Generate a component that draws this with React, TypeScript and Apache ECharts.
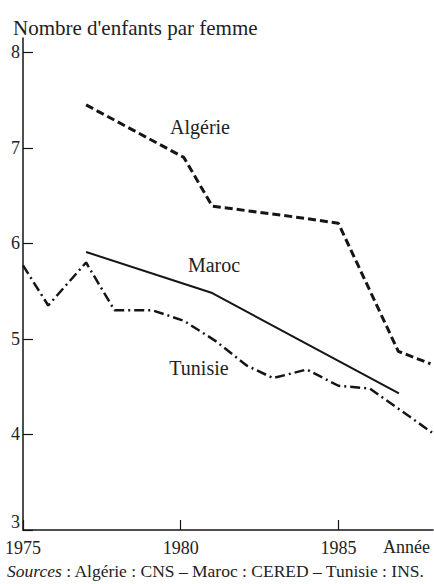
import React, { useEffect, useRef } from "react";
import * as echarts from "echarts";

const algerieYears = [1977, 1980.1, 1981, 1984, 1985, 1986.9, 1987.92];
const algerieValues = [7.45, 6.9, 6.39, 6.26, 6.21, 4.87, 4.74];

const marocYears = [1977, 1981, 1986.92];
const marocValues = [5.91, 5.48, 4.43];

const tunisieYears = [1975, 1975.8, 1977, 1977.9, 1979.1, 1980.1, 1981.1, 1982.1, 1982.93, 1984, 1985, 1986, 1987.97];
const tunisieValues = [5.77, 5.35, 5.8, 5.3, 5.3, 5.19, 4.98, 4.72, 4.59, 4.68, 4.51, 4.48, 4.02];

const xTicks = [1975, 1980, 1985];
const yTicks = [3, 4, 5, 6, 7, 8];

const titleText = "Nombre d'enfants par femme";
const xName = "Année";
const sourceLabel = "Sources";
const sourceText = " : Algérie : CNS – Maroc : CERED – Tunisie : INS.";
const seriesNames = ["Algérie", "Maroc", "Tunisie"];

const FONT = "'Liberation Serif', 'Times New Roman', Times, serif";
const INK = "#151515";
const TXT = "#222";

function pairs(xs: number[], ys: number[]) {
  return xs.map((x, i) => [x, ys[i]]);
}

export default function App() {
  const ref = useRef<HTMLDivElement>(null);
  useEffect(() => {
    if (!ref.current) return;
    const chart = echarts.init(ref.current, undefined, { renderer: "svg" });
    const label = (size: number) => ({ fontFamily: FONT, fontSize: size, fill: TXT });
    chart.setOption({
      animation: false,
      backgroundColor: "#fff",
      title: {
        text: titleText,
        left: 8,
        top: 12,
        textStyle: { fontFamily: FONT, fontSize: 21, fontWeight: "normal", color: TXT },
      },
      grid: { left: 23, right: 1, top: 38, bottom: 54 },
      xAxis: {
        type: "value",
        min: 1975,
        max: 1988,
        interval: 5,
        axisLine: { show: true, lineStyle: { color: INK, width: 1.5 } },
        axisTick: { show: true, inside: true, length: 10, customValues: xTicks, lineStyle: { color: INK, width: 1.2 } },
        axisLabel: {
          customValues: xTicks,
          margin: 9,
          fontFamily: FONT,
          fontSize: 18,
          color: TXT,
          formatter: (v: number) => String(v),
        },
        splitLine: { show: false },
      },
      yAxis: {
        type: "value",
        min: 3,
        max: 8.15,
        interval: 1,
        axisLine: { show: true, lineStyle: { color: INK, width: 1.5 } },
        axisTick: { show: true, inside: true, length: 10, customValues: yTicks, lineStyle: { color: INK, width: 1.2 } },
        axisLabel: {
          customValues: yTicks,
          margin: 3,
          fontFamily: FONT,
          fontSize: 18,
          color: TXT,
          formatter: (v: number) => (v === yTicks[0] ? `{low|${v}}` : String(v)),
          rich: {
            low: { fontFamily: FONT, fontSize: 18, color: TXT, padding: [0, 0, 16, 0] },
          },
        },
        splitLine: { show: false },
      },
      series: [
        {
          name: seriesNames[0],
          type: "line",
          data: pairs(algerieYears, algerieValues),
          showSymbol: false,
          lineStyle: { color: INK, width: 3, type: [8, 4] },
        },
        {
          name: seriesNames[1],
          type: "line",
          data: pairs(marocYears, marocValues),
          showSymbol: false,
          lineStyle: { color: INK, width: 2 },
        },
        {
          name: seriesNames[2],
          type: "line",
          data: pairs(tunisieYears, tunisieValues),
          showSymbol: false,
          lineStyle: { color: INK, width: 2.5, type: [10, 4, 2, 4] },
        },
      ],
      graphic: [
        { type: "text", x: 200, y: 127, style: { text: seriesNames[0], ...label(20), align: "center", verticalAlign: "middle" } },
        { type: "text", x: 214, y: 265, style: { text: seriesNames[1], ...label(20), align: "center", verticalAlign: "middle" } },
        { type: "text", x: 199, y: 368, style: { text: seriesNames[2], ...label(20), align: "center", verticalAlign: "middle" } },
        { type: "text", x: 383, y: 547, style: { text: xName, ...label(18), align: "left", verticalAlign: "middle" } },
        {
          type: "text",
          x: 7,
          y: 571,
          style: {
            text: `{i|${sourceLabel}}{n|${sourceText}}`,
            verticalAlign: "middle",
            rich: {
              i: { fontFamily: FONT, fontSize: 17.5, fontStyle: "italic", fill: TXT },
              n: { fontFamily: FONT, fontSize: 17.5, fill: TXT },
            },
          },
        },
      ],
    });
    return () => chart.dispose();
  }, []);
  return <div ref={ref} style={{ width: 434, height: 584, position: "fixed", left: 0, top: 0 }} />;
}
